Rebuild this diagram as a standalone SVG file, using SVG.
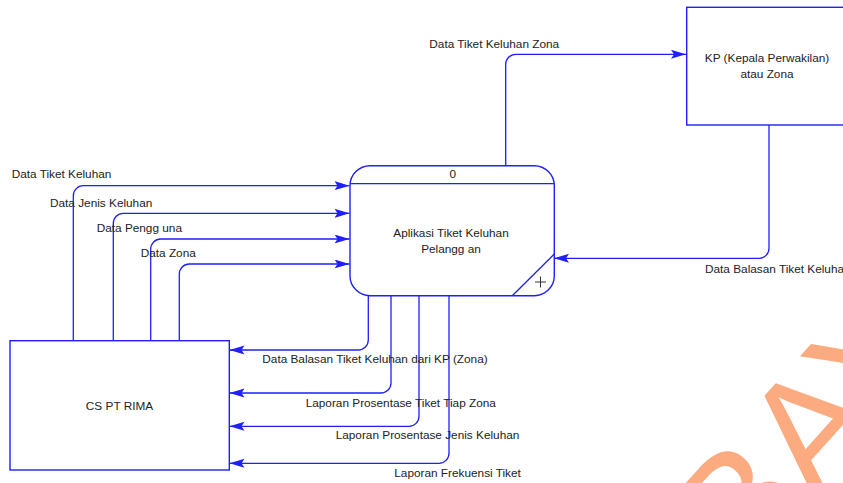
<svg xmlns="http://www.w3.org/2000/svg" width="843" height="483" viewBox="0 0 843 483">
<style>
.ln{fill:none;stroke:#1f1fff;stroke-width:1.3}
.bx{fill:#fff;stroke:#1f1fff;stroke-width:1.4}
.t{font-family:"Liberation Sans",Arial,sans-serif;font-size:11.8px;fill:#222}
.c{text-anchor:middle}
.wm{font-family:"Liberation Sans",Arial,sans-serif;font-size:160px;fill:#fcaa80}
</style>
<defs>
<marker id="ar" markerUnits="userSpaceOnUse" markerWidth="16" markerHeight="10" refX="15" refY="4.5" orient="auto">
<path d="M0,0 L15,4.5 L0,9 L3,4.5 Z" fill="#1f1fff"/>
</marker>
</defs>
<rect width="843" height="483" fill="#fff"/>
<g id="watermark" transform="translate(816,503) rotate(-48)">
<text class="wm" x="-106.7" y="0">BAYA</text>
</g>
<g id="connectors">
<path class="ln" d="M505.7,166 V64.3 A10,10 0 0 1 515.7,54.3 H686" marker-end="url(#ar)"/>
<path class="ln" d="M769,125 V248.3 A10,10 0 0 1 759,258.3 H554" marker-end="url(#ar)"/>
<path class="ln" d="M73.3,340.7 V195.7 A10,10 0 0 1 83.3,185.7 H349.5" marker-end="url(#ar)"/>
<path class="ln" d="M113.3,340.7 V223.3 A10,10 0 0 1 123.3,213.3 H349.5" marker-end="url(#ar)"/>
<path class="ln" d="M150.7,340.7 V249 A10,10 0 0 1 160.7,239 H349.5" marker-end="url(#ar)"/>
<path class="ln" d="M179.3,340.7 V274 A10,10 0 0 1 189.3,264 H349.5" marker-end="url(#ar)"/>
<path class="ln" d="M368.3,296 V340 A10,10 0 0 1 358.3,350 H229.5" marker-end="url(#ar)"/>
<path class="ln" d="M391,296 V383 A10,10 0 0 1 381,393 H229.5" marker-end="url(#ar)"/>
<path class="ln" d="M419,296 V416.3 A10,10 0 0 1 409,426.3 H229.5" marker-end="url(#ar)"/>
<path class="ln" d="M449,296 V453.3 A10,10 0 0 1 439,463.3 H229.5" marker-end="url(#ar)"/>
<text class="t" x="429.3" y="47.5">Data Tiket Keluhan Zona</text>
<text class="t" x="705" y="272.7">Data Balasan Tiket Keluhan</text>
<text class="t" x="11.7" y="178.3">Data Tiket Keluhan</text>
<text class="t" x="50" y="206.7">Data Jenis Keluhan</text>
<text class="t" x="96.7" y="231.7">Data Pengg una</text>
<text class="t" x="140.7" y="256.7">Data Zona</text>
<text class="t" x="262.3" y="362.7">Data Balasan Tiket Keluhan dari KP (Zona)</text>
<text class="t" x="305.7" y="406.7">Laporan Prosentase Tiket Tiap Zona</text>
<text class="t" x="335.7" y="439.3">Laporan Prosentase Jenis Keluhan</text>
<text class="t" x="394.3" y="476.7">Laporan Frekuensi Tiket</text>
</g>
<g id="process0">
<rect class="bx" x="350" y="165.7" width="204.3" height="130" rx="20" ry="20"/>
<line class="ln" x1="350" y1="183.7" x2="554.3" y2="183.7"/>
<line class="ln" x1="512.3" y1="295.7" x2="554.3" y2="254"/>
<text class="t c" x="452.7" y="177.7">0</text>
<text class="t c" x="451" y="236.5">Aplikasi Tiket Keluhan</text>
<text class="t c" x="451" y="252.5">Pelangg an</text>
<path d="M535,282 H546 M540.5,276.5 V287.5" stroke="#333" stroke-width="1" fill="none"/>
</g>
<g id="kp">
<rect class="bx" x="686.7" y="7.3" width="170" height="117.7"/>
<text class="t c" x="767" y="62">KP (Kepala Perwakilan)</text>
<text class="t c" x="767" y="78">atau Zona</text>
</g>
<g id="cs">
<rect class="bx" x="10" y="340.7" width="219.3" height="129.3"/>
<text class="t c" x="119.5" y="410">CS PT RIMA</text>
</g>
</svg>
